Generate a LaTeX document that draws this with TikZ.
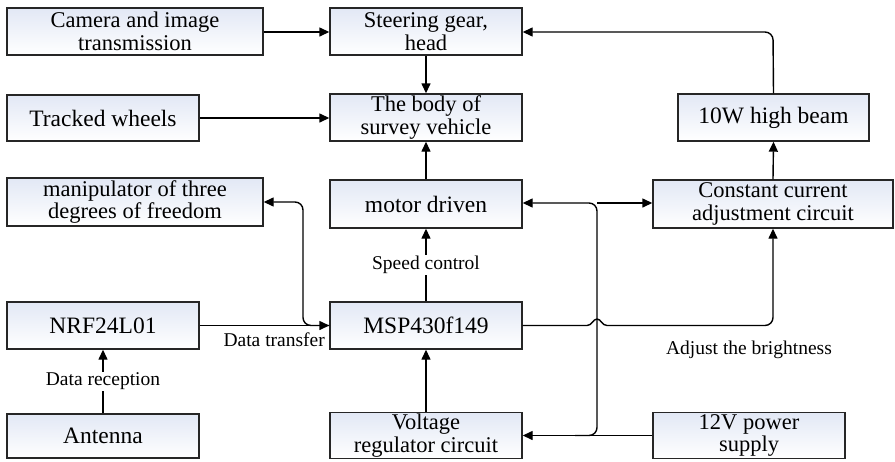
\documentclass[tikz,border=0pt]{standalone}
\usepackage{fontspec}
\setmainfont{Liberation Serif}
\usetikzlibrary{arrows.meta}
\definecolor{boxtop}{RGB}{226,232,245}
\tikzset{
  box/.style={draw=black!85, line width=1.4pt, top color=boxtop, bottom color=white,
    minimum height=47pt, inner sep=0pt, align=center,
    font=\fontsize{22.5}{22.5}\selectfont},
  conn/.style={line width=1.4pt, -{Triangle[length=10pt,width=9pt]}},
  lbl/.style={font=\fontsize{19.5}{20}\selectfont, inner sep=1pt}
}
\begin{document}
\begin{tikzpicture}[x=1pt,y=-1pt]
\useasboundingbox (0,0) rectangle (895,461);
\node[box, minimum width=256pt] (cam) at (135,31.5) {Camera and image\\transmission};
\node[box, minimum width=192pt] (steer) at (426,31.5) {Steering gear,\\head};
\node[box, minimum width=192pt, minimum height=46pt, font=\fontsize{23.5}{22}\selectfont] (track) at (103,118) {Tracked wheels};
\node[box, minimum width=192pt] (body) at (426,117.5) {The body of\\survey vehicle};
\node[box, minimum width=191pt, font=\fontsize{23.5}{22}\selectfont] (beam) at (773.5,117.5) {10W high beam};
\node[box, minimum width=256pt, minimum height=48pt] (manip) at (135,202) {manipulator of three\\degrees of freedom};
\node[box, minimum width=192pt, minimum height=48pt, font=\fontsize{23.5}{22}\selectfont] (motor) at (426,204) {motor driven};
\node[box, minimum width=240pt, minimum height=48pt] (cc) at (773,204) {Constant current\\adjustment circuit};
\node[box, minimum width=192pt, font=\fontsize{23.5}{22}\selectfont] (nrf) at (103,325.5) {NRF24L01};
\node[box, minimum width=192pt, font=\fontsize{23.5}{22}\selectfont] (msp) at (426,325.5) {MSP430f149};
\node[box, minimum width=192pt, minimum height=44pt, font=\fontsize{23.5}{22}\selectfont] (ant) at (103,436) {Antenna};
\node[box, minimum width=192pt, minimum height=46pt] (volt) at (426,435.5) {Voltage\\regulator circuit};
\node[box, minimum width=192pt, minimum height=46pt] (pwr) at (749,435.5) {12V power\\supply};

\coordinate (tl) at (773,32);
\coordinate (ml) at (303,325.5);
\coordinate (mt) at (303,202);
\coordinate (vl) at (575,435.5);
\coordinate (vb) at (597,435.5);
\coordinate (vt) at (597,203);
\coordinate (jl) at (587,325.5);
\coordinate (jr) at (607,325.5);
\coordinate (cr) at (773,325.5);

\draw[conn] (cam.east |- 0,32) -- (steer.west |- 0,32);
\draw[conn] (steer) -- (body);
\draw[conn] (track) -- (body.west |- track);
\draw[conn, rounded corners=8pt] (beam.north) -- (tl) -- (steer.east |- tl);
\draw[conn] (motor) -- (body);
\draw[conn] (cc.north) -- (beam.south);
\draw[conn] (msp) -- node[lbl, fill=white, pos=0.5] (spd) {Speed control} (motor);
\draw[conn] (nrf) -- (msp);
\draw[conn, rounded corners=8pt] (msp.west) -- (ml) -- (mt) -- (manip.east |- mt);
\draw[conn] (ant) -- node[lbl, fill=white] (drc) {Data reception} (nrf);
\draw[conn] (volt) -- (msp);
\draw[conn] (pwr.west) -- (volt.east);
\draw[conn, rounded corners=8pt] (vl) -- (vb) -- (vt) -- (motor.east |- vt);
\draw[conn] (vt) -- (cc.west |- vt);
\draw[line width=1.4pt] (msp.east) -- (jl) .. controls (592,325.5) and (593,319) .. (597,319)
  .. controls (601,319) and (602,325.5) .. (jr);
\draw[conn, rounded corners=8pt] (jr) -- (cr) -- (cc.south);
\node[lbl, anchor=east] (dtr) at (326,340) {Data transfer};
\node[lbl] (adj) at (749,350) {Adjust the brightness};
\end{tikzpicture}
\end{document}
